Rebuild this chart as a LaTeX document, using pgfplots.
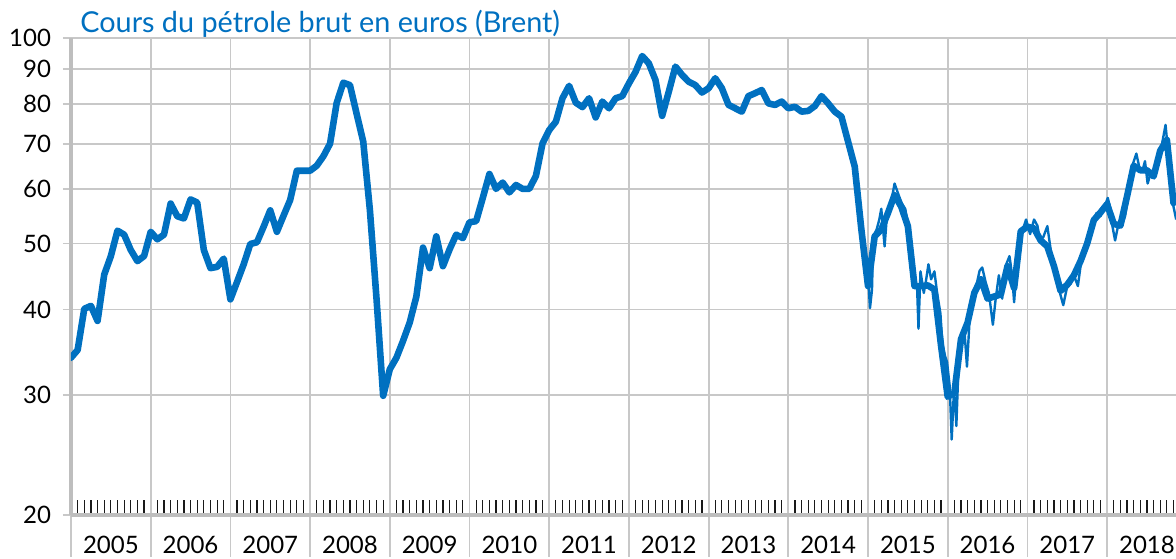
\documentclass[border=0pt]{standalone}
\usepackage{fontspec}
\setmainfont{Lato}
\usepackage{pgfplots}
\usepackage{pgfplotstable}
\pgfplotsset{compat=1.18}
\definecolor{brent}{RGB}{0,112,192}
\definecolor{gridc}{RGB}{200,200,200}
\definecolor{axc}{RGB}{190,190,190}

% monthly average (month index: 0 = Jan 2005)
\pgfplotstableread{
m v
0 34.0
1 34.9
2 40.1
3 40.5
4 38.5
5 45.0
6 47.9
7 52.2
8 51.5
9 48.9
10 47.1
11 47.9
12 52.0
13 50.7
14 51.5
15 57.2
16 54.8
17 54.4
18 58.0
19 57.4
20 48.9
21 46.0
22 46.2
23 47.5
24 41.4
25 43.9
26 46.6
27 49.9
28 50.2
29 52.9
30 55.9
31 52.0
32 54.9
33 57.9
34 63.9
35 63.9
36 63.9
37 65.0
38 67.1
39 70.0
40 80.3
41 86.0
42 85.3
43 77.5
44 70.5
45 56.0
46 41.5
47 29.9
48 32.7
49 34.0
50 36.0
51 38.3
52 41.8
53 49.3
54 46.0
55 51.2
56 46.3
57 49.0
58 51.5
59 50.9
60 53.7
61 53.9
62 58.3
63 63.2
64 60.1
65 61.4
66 59.4
67 60.9
68 60.1
69 60.1
70 62.8
71 70.1
72 73.3
73 75.4
74 81.6
75 85.1
76 80.4
77 79.2
78 81.6
79 76.5
80 80.7
81 78.9
82 81.6
83 82.2
84 85.8
85 89.2
86 94.1
87 91.8
88 86.8
89 76.9
90 83.4
91 90.8
92 88.3
93 86.3
94 85.3
95 83.2
96 84.4
97 87.3
98 84.4
99 79.8
100 78.9
101 78.0
102 82.2
103 83.0
104 83.9
105 80.2
106 79.8
107 80.7
108 78.9
109 79.3
110 78.0
111 78.2
112 79.5
113 82.2
114 80.2
115 78.0
116 76.7
117 70.5
118 64.8
119 52.4
120 43.3
121 51.2
122 52.4
123 55.4
124 58.9
125 56.6
126 53.0
127 43.3
128 43.3
129 43.4
130 42.8
131 35.4
132 29.8
133 30.2
134 36.2
135 38.3
136 42.3
137 44.3
138 41.5
139 41.8
140 42.1
141 46.3
142 43.0
143 52.1
144 52.9
145 52.6
146 50.5
147 49.5
148 46.3
149 42.6
150 43.5
151 44.9
152 47.1
153 50.0
154 54.1
155 55.5
156 57.1
157 53.4
158 53.1
159 58.6
160 65.0
161 64.0
162 64.0
163 62.7
164 68.4
165 70.9
166 57.3
}\monthly

% daily quotes (sampled), from 2015
\pgfplotstableread{
m v
120.0 45.0
120.3 40.2
120.6 42.8
120.8 51.2
121.3 52.4
121.7 54.2
122.0 56.2
122.5 49.5
122.8 54.2
123.3 56.2
124.0 61.2
124.6 58.9
125.1 57.2
125.6 56.2
126.1 53.0
126.5 48.5
127.0 43.9
127.4 42.8
127.6 37.5
127.9 45.5
128.4 42.3
128.7 43.9
129.1 46.6
129.5 44.3
130.0 45.5
130.4 42.3
130.9 39.5
131.2 35.6
131.6 34.2
131.9 33.5
132.3 30.9
132.6 25.8
132.9 29.9
133.1 29.7
133.3 27.0
133.6 32.6
134.0 35.6
134.5 37.5
134.9 33.0
135.3 38.7
135.7 41.8
136.3 43.3
136.8 45.6
137.2 46.1
137.7 43.9
138.2 42.3
138.8 38.0
139.2 41.3
139.7 44.9
140.2 41.5
140.7 46.3
141.3 47.9
141.7 44.9
142.0 41.0
142.5 47.9
142.8 52.1
143.3 52.4
143.8 54.2
144.4 51.6
145.0 54.2
145.5 53.1
145.9 50.5
146.4 51.1
147.0 53.0
147.5 49.0
147.9 46.3
148.4 45.5
148.9 42.3
149.4 40.6
150.0 43.3
150.5 43.6
151.0 44.9
151.6 43.3
152.1 47.1
152.7 48.5
153.2 50.9
153.7 53.4
154.4 55.4
155.0 54.8
155.5 56.2
156.1 58.3
156.5 56.2
156.8 53.0
157.2 50.5
157.7 53.4
158.2 53.0
158.7 54.8
159.2 58.6
159.7 64.6
160.4 67.7
160.9 64.3
161.4 64.3
161.7 66.0
162.1 61.2
162.6 63.6
163.1 62.7
163.6 65.3
164.2 69.4
164.8 74.6
165.1 69.4
165.4 62.7
165.9 57.2
166.4 54.2
}\daily

\begin{document}
\begin{tikzpicture}
\begin{axis}[
  name=ax,
  scale only axis,
  width=557.9pt, height=238.5pt,
  xmin=0, xmax=168,
  ymode=log, ymin=20, ymax=100,
  ytick={20,30,40,50,60,70,80,90,100},
  yticklabels={20,30,40,50,60,70,80,90,100},
  yminorticks=false,
  xtick={0,12,...,168},
  xticklabels={2005,2006,2007,2008,2009,2010,2011,2012,2013,2014,2015,2016,2017,2018},
  x tick label as interval,
  minor x tick num=11,
  grid=major,
  major grid style={gridc, line width=0.9pt},
  axis x line*=bottom,
  axis y line*=left,
  axis line style={axc, line width=1.6pt},
  tick align=outside,
  major tick length=21pt,
  major tick style={gridc, line width=0.9pt},
  ytick style={xshift=17pt},
  minor tick length=7.5pt,
  minor tick style={black!90, line width=0.6pt, yshift=7.5pt},
  ticklabel style={font=\fontsize{12}{14}\selectfont, text=black},
  yticklabel style={anchor=east, xshift=14.5pt},
  xticklabel style={anchor=base, yshift=1.8pt},
  title={Cours du pétrole brut en euros (Brent)},
  title style={at={(0,1)}, anchor=base west, xshift=4.5pt, yshift=-3.5pt,
    font=\fontsize{14.4}{17}\selectfont, text=brent, inner sep=0pt},
]
\addplot[brent, line width=1.2pt, line join=round] table[x=m, y=v] {\daily};
\addplot[brent, line width=3.3pt, line join=round, line cap=round] table[x=m, y=v] {\monthly};
\coordinate (bl) at (rel axis cs:0,0);
\coordinate (tl) at (rel axis cs:0,1);
\end{axis}
\pgfresetboundingbox
\path[use as bounding box] ([shift={(-35.5pt,-21.5pt)}]bl) rectangle ([shift={(552.5pt,19pt)}]tl);
\end{tikzpicture}
\end{document}
